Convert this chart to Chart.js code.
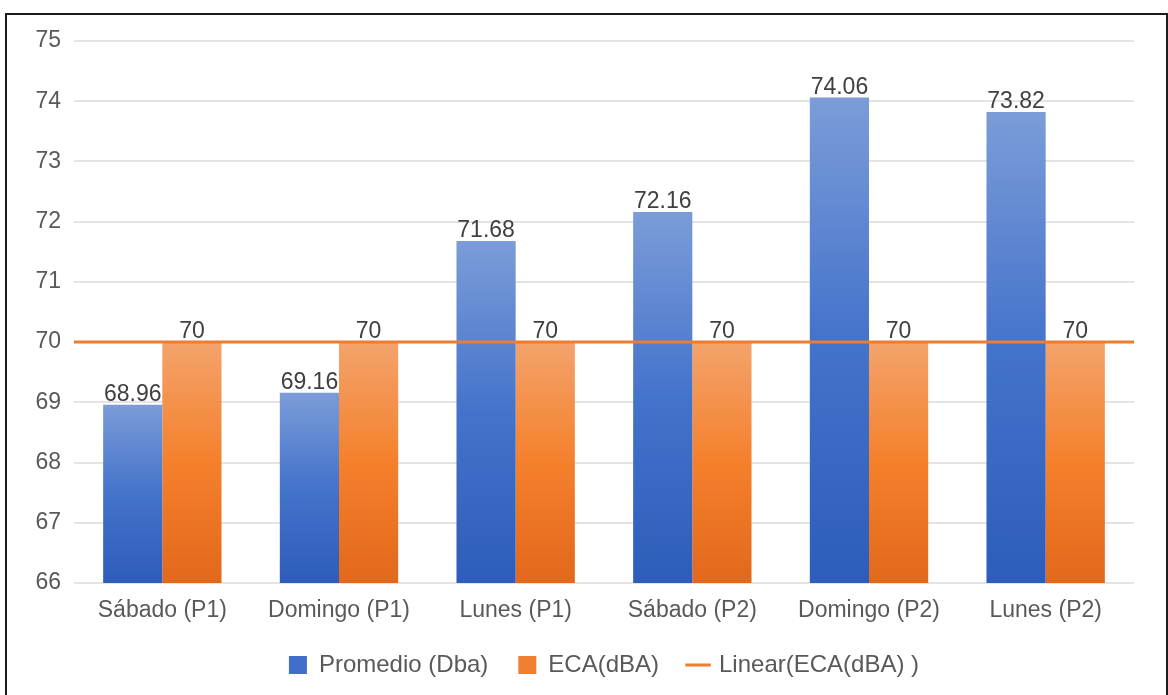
<!DOCTYPE html>
<html lang="es">
<head>
<meta charset="utf-8">
<title>Promedio (Dba) vs ECA(dBA)</title>
<script src="https://cdn.jsdelivr.net/npm/chart.js@4.4.1/dist/chart.umd.min.js"></script>
<style>
  html, body { margin: 0; padding: 0; background: #ffffff; }
  body { width: 1168px; height: 695px; position: relative; overflow: hidden; }
  #wrap { position: absolute; left: 0; top: 0; width: 1168px; height: 695px; }
  #frame {
    position: absolute; left: 5px; top: 13px; width: 1159px; height: 700px;
    border: 2px solid #1c1c1c; pointer-events: none;
  }
</style>
</head>
<body>
<div id="wrap"><canvas id="chart" width="1168" height="695"></canvas></div>
<div id="frame"></div>
<script>
// Categories and series
const categories = ['Sábado (P1)', 'Domingo (P1)', 'Lunes (P1)', 'Sábado (P2)', 'Domingo (P2)', 'Lunes (P2)'];
const promedio = [68.96, 69.16, 71.68, 72.16, 74.06, 73.82];
const eca = [70, 70, 70, 70, 70, 70];
const seriesNames = ['Promedio (Dba)', 'ECA(dBA)', 'Linear(ECA(dBA) )'];
// Value axis range
const yMin = 66;
const yMax = 75;
const yStep = 1;

// Category positions on a numeric axis (one slot per category, half a slot of margin each side)
const xMin = -0.5;
const xMax = categories.length - 0.5;
const asPoints = values => values.map((y, i) => ({ x: i, y }));

// Least-squares linear trend of the ECA series, drawn across the whole plot width
function linearTrend(values) {
  const n = values.length;
  let sx = 0, sy = 0, sxy = 0, sxx = 0;
  values.forEach((v, i) => { sx += i; sy += v; sxy += i * v; sxx += i * i; });
  const slope = (n * sxy - sx * sy) / (n * sxx - sx * sx);
  const intercept = (sy - slope * sx) / n;
  return x => intercept + slope * x;
}
const trend = linearTrend(eca);
const trendPoints = [{ x: xMin, y: trend(xMin) }, { x: xMax, y: trend(xMax) }];

const FONT = "'Liberation Sans', Arial, sans-serif";

// Vertical gradient from the top of each bar down to the axis floor
function barGradient(stops, solid) {
  return function (ctx) {
    const chart = ctx.chart;
    const area = chart.chartArea;
    if (!area || ctx.dataIndex === undefined || !ctx.raw) return solid;
    const top = chart.scales.y.getPixelForValue(ctx.raw.y);
    const bottom = area.bottom;
    if (!isFinite(top) || bottom - top < 1) return solid;
    const g = chart.ctx.createLinearGradient(0, top, 0, bottom);
    stops.forEach(([o, c]) => g.addColorStop(o, c));
    return g;
  };
}

const blueFill = barGradient([[0, '#7b9cd8'], [0.5, '#4473cb'], [1, '#2e5cba']], '#3f6fcb');
const orangeFill = barGradient([[0, '#f3a36c'], [0.5, '#f5802c'], [1, '#e2681b']], '#ee7d31');

// Value labels above every bar
const valueLabels = {
  id: 'valueLabels',
  afterDatasetsDraw(chart) {
    const ctx = chart.ctx;
    ctx.save();
    ctx.font = '23px ' + FONT;
    ctx.fillStyle = '#404040';
    ctx.textAlign = 'center';
    ctx.textBaseline = 'alphabetic';
    chart.data.datasets.forEach((ds, di) => {
      if (ds.type === 'line') return;
      const meta = chart.getDatasetMeta(di);
      meta.data.forEach((el, i) => {
        ctx.fillText(String(ds.data[i].y), el.x, el.y - 4);
      });
    });
    ctx.restore();
  }
};

const whiteBg = {
  id: 'whiteBg',
  beforeDraw(chart) {
    const c = chart.ctx;
    c.save();
    c.fillStyle = '#ffffff';
    c.fillRect(0, 0, chart.width, chart.height);
    c.restore();
  }
};

new Chart(document.getElementById('chart'), {
  type: 'bar',
  data: {
    datasets: [
      {
        label: seriesNames[0],
        data: asPoints(promedio),
        backgroundColor: blueFill,
        borderWidth: 0,
        categoryPercentage: 0.67,
        barPercentage: 1.0,
        order: 1
      },
      {
        label: seriesNames[1],
        data: asPoints(eca),
        backgroundColor: orangeFill,
        borderWidth: 0,
        categoryPercentage: 0.67,
        barPercentage: 1.0,
        order: 1
      },
      {
        type: 'line',
        label: seriesNames[2],
        data: trendPoints,
        borderColor: '#ee7d31',
        backgroundColor: '#ee7d31',
        borderWidth: 3,
        pointRadius: 0,
        fill: false,
        order: 0
      }
    ]
  },
  options: {
    responsive: false,
    animation: false,
    devicePixelRatio: 1,
    layout: { padding: { left: 0, right: 34, top: 41, bottom: 8 } },
    plugins: {
      tooltip: { enabled: false },
      legend: {
        position: 'bottom',
        fullSize: false,
        labels: {
          font: { family: FONT, size: 24 },
          color: '#595959',
          usePointStyle: true,
          boxWidth: 18,
          boxHeight: 18,
          padding: 30,
          sort: (a, b) => a.datasetIndex - b.datasetIndex,
          generateLabels(chart) {
            const items = Chart.defaults.plugins.legend.labels.generateLabels(chart);
            items.forEach(it => {
              const ds = chart.data.datasets[it.datasetIndex];
              if (ds.type === 'line') {
                it.pointStyle = 'line';
                it.strokeStyle = '#ee7d31';
                it.lineWidth = 3;
              } else {
                it.pointStyle = 'rect';
                it.fillStyle = it.datasetIndex === 0 ? '#3f6fcb' : '#f07f2f';
                it.strokeStyle = 'rgba(0,0,0,0)';
                it.lineWidth = 0;
              }
              it.fontColor = '#595959';
            });
            return items;
          }
        }
      }
    },
    scales: {
      x: {
        type: 'linear',
        min: xMin,
        max: xMax,
        offset: false,
        grid: { display: false, drawTicks: false },
        border: { display: false },
        afterBuildTicks(scale) {
          scale.ticks = categories.map((_, i) => ({ value: i }));
        },
        ticks: {
          autoSkip: false,
          maxRotation: 0,
          font: { family: FONT, size: 23 },
          color: '#595959',
          padding: 14,
          callback: v => categories[v] ?? ''
        },
        afterFit(scale) { scale.height = 40; }
      },
      y: {
        min: yMin,
        max: yMax,
        grid: { color: '#e4e4e4', lineWidth: 2, drawTicks: false },
        border: { display: false },
        ticks: {
          stepSize: yStep,
          font: { family: FONT, size: 23 },
          color: '#595959',
          padding: 13
        },
        afterFit(scale) { scale.width = 74; }
      }
    }
  },
  plugins: [whiteBg, valueLabels]
});
</script>
</body>
</html>
